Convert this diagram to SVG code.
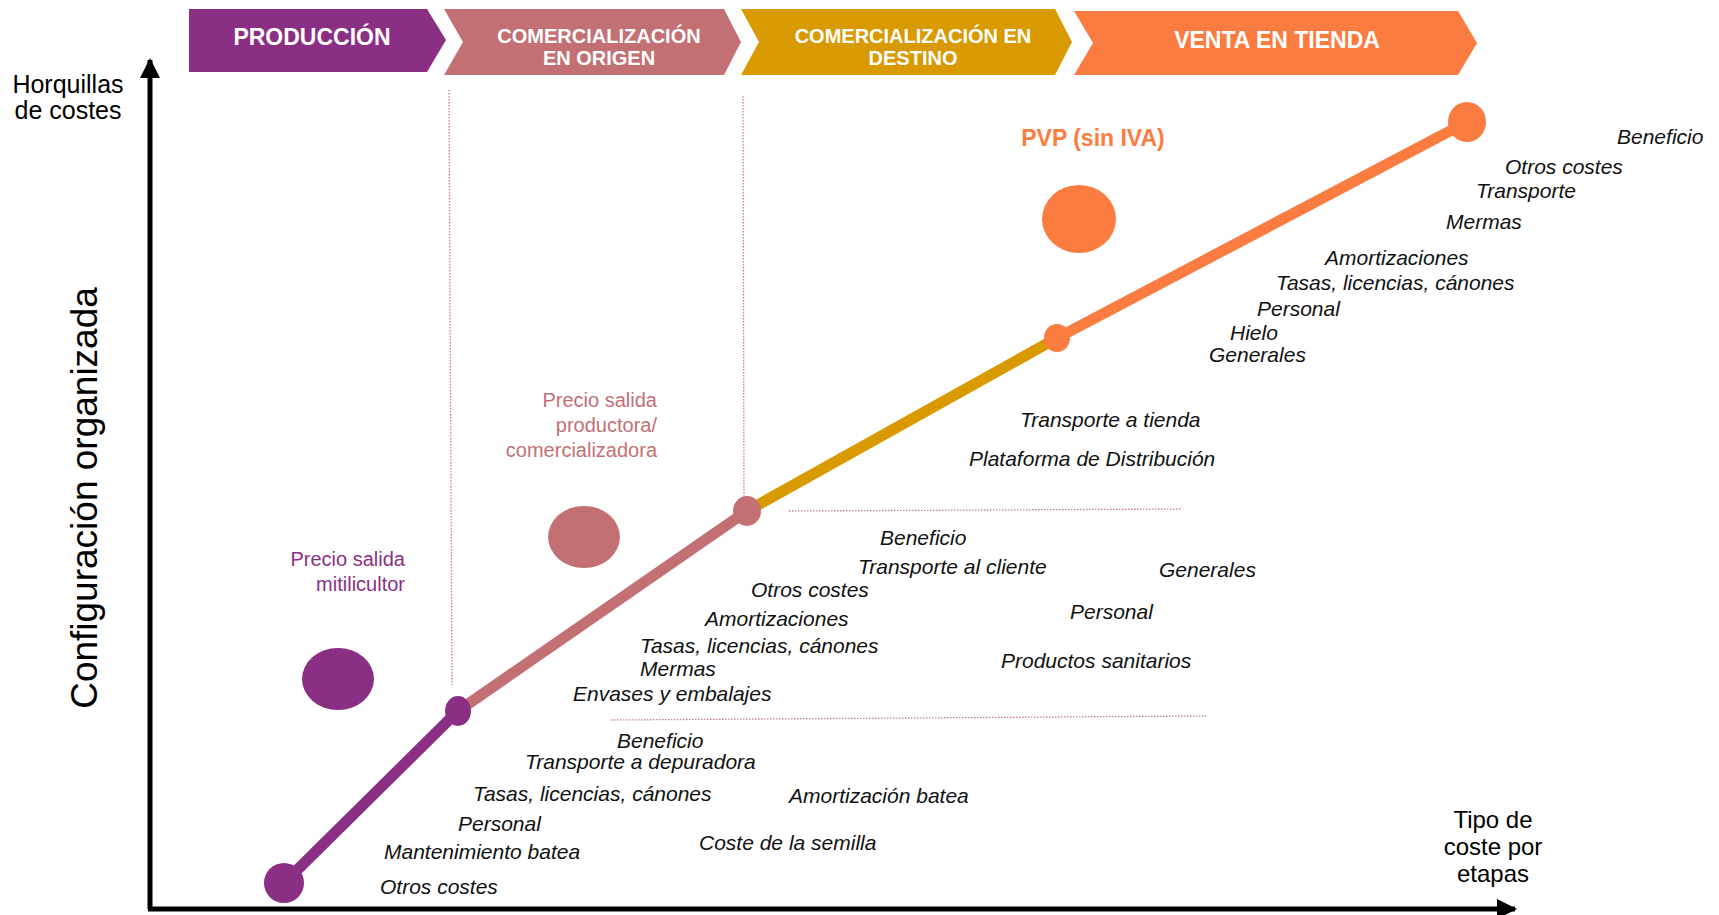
<svg xmlns="http://www.w3.org/2000/svg" width="1719" height="915" viewBox="0 0 1719 915">
<style>
.bn{font-family:"Liberation Sans",Arial,sans-serif;font-weight:bold;fill:#fff;text-anchor:middle}
.ax{font-family:"Liberation Sans",Arial,sans-serif;fill:#000}
.it{font-family:"Liberation Sans",Arial,sans-serif;font-style:italic;fill:#111;font-size:21px}
.lb{font-family:"Liberation Sans",Arial,sans-serif;font-size:20px;text-anchor:end}
.dot{stroke:#C47AA8;stroke-width:1.3;stroke-dasharray:1.5 1.5;fill:none}
.seg{stroke-width:11;stroke-linecap:butt}
</style>
<defs>
<marker id="arr" viewBox="0 0 10 10" refX="9" refY="5" markerWidth="4" markerHeight="4" markerUnits="strokeWidth" orient="auto">
<path d="M0,0 L10,5 L0,10 z" fill="#000"/>
</marker>
</defs>
<rect width="1719" height="915" fill="#fff"/>

<g id="banner-produccion">
<polygon points="189,9 427,9 446,40 427,72 189,72" fill="#8B2F84"/>
<text class="bn" x="312" y="45" font-size="23">PRODUCCIÓN</text>
</g>
<g id="banner-origen">
<polygon points="444,9 724,9 741,42 724,75 444,75 463,42" fill="#C37074"/>
<text class="bn" x="599" y="43" font-size="20">COMERCIALIZACIÓN</text>
<text class="bn" x="599" y="65" font-size="20">EN ORIGEN</text>
</g>
<g id="banner-destino">
<polygon points="741,9 1055,9 1072,42 1055,75 741,75 759,42" fill="#D99A00"/>
<text class="bn" x="913" y="43" font-size="20">COMERCIALIZACIÓN EN</text>
<text class="bn" x="913" y="65" font-size="20">DESTINO</text>
</g>
<g id="banner-tienda">
<polygon points="1074,11 1458,11 1477,43 1458,75 1074,75 1093,43" fill="#FA7C40"/>
<text class="bn" x="1277" y="48" font-size="23">VENTA EN TIENDA</text>
</g>

<g id="axes">
<line x1="150" y1="909" x2="150" y2="60" stroke="#000" stroke-width="5" marker-end="url(#arr)"/>
<line x1="148" y1="909" x2="1515" y2="909" stroke="#000" stroke-width="5" marker-end="url(#arr)"/>
<text class="ax" x="68" y="93" text-anchor="middle" font-size="25">Horquillas</text>
<text class="ax" x="68" y="119" text-anchor="middle" font-size="25">de costes</text>
<text class="ax" x="1493" y="828" text-anchor="middle" font-size="24">Tipo de</text>
<text class="ax" x="1493" y="855" text-anchor="middle" font-size="24">coste por</text>
<text class="ax" x="1493" y="882" text-anchor="middle" font-size="24">etapas</text>
<text class="ax" transform="translate(97,498) rotate(-90)" text-anchor="middle" font-size="37">Configuración organizada</text>
</g>

<g id="guides">
<line class="dot" x1="449" y1="90" x2="452" y2="685"/>
<line class="dot" x1="743" y1="96" x2="744" y2="499"/>
<line class="dot" x1="789" y1="511" x2="1182" y2="509"/>
<line class="dot" x1="611" y1="720" x2="1206" y2="716"/>
</g>

<g id="connectors">
<line class="seg" x1="284" y1="883" x2="458" y2="711" stroke="#8B2F84"/>
<line class="seg" x1="458" y1="711" x2="747" y2="511" stroke="#C37074"/>
<line class="seg" x1="747" y1="511" x2="1057" y2="338" stroke="#D99A00"/>
<line class="seg" x1="1057" y1="338" x2="1467" y2="122" stroke="#FA7C40"/>
</g>

<g id="point-inicio"><ellipse cx="284" cy="883" rx="20" ry="20" fill="#8B2F84"/></g>
<g id="point-produccion"><ellipse cx="458" cy="711" rx="13" ry="15" fill="#8B2F84"/></g>
<g id="point-origen"><ellipse cx="747" cy="511" rx="14" ry="15" fill="#C37074"/></g>
<g id="point-destino"><ellipse cx="1057" cy="338" rx="13" ry="14" fill="#FA7C40"/></g>
<g id="point-tienda"><ellipse cx="1467" cy="122" rx="19" ry="20" fill="#FA7C40"/></g>

<g id="precio-mitilicultor">
<ellipse cx="338" cy="679" rx="36" ry="31" fill="#8B2F84"/>
<text class="lb" x="405" y="566" fill="#8B2F84">Precio salida</text>
<text class="lb" x="405" y="591" fill="#8B2F84">mitilicultor</text>
</g>
<g id="precio-productora">
<ellipse cx="584" cy="537" rx="36" ry="31" fill="#C37074"/>
<text class="lb" x="657" y="407" fill="#C37074">Precio salida</text>
<text class="lb" x="657" y="432" fill="#C37074">productora/</text>
<text class="lb" x="657" y="457" fill="#C37074">comercializadora</text>
</g>
<g id="pvp">
<ellipse cx="1079" cy="219" rx="37" ry="34" fill="#FA7C40"/>
<text x="1093" y="146" text-anchor="middle" font-family="Liberation Sans, Arial, sans-serif" font-weight="bold" font-size="23" fill="#FA7C40">PVP (sin IVA)</text>
</g>

<g id="costes-tienda">
<text class="it" x="1617" y="144">Beneficio</text>
<text class="it" x="1505" y="174">Otros costes</text>
<text class="it" x="1476" y="198">Transporte</text>
<text class="it" x="1446" y="229">Mermas</text>
<text class="it" x="1325" y="265">Amortizaciones</text>
<text class="it" x="1276" y="290">Tasas, licencias, cánones</text>
<text class="it" x="1257" y="316">Personal</text>
<text class="it" x="1230" y="340">Hielo</text>
<text class="it" x="1209" y="362">Generales</text>
</g>
<g id="costes-destino">
<text class="it" x="1020" y="427">Transporte a tienda</text>
<text class="it" x="969" y="466">Plataforma de Distribución</text>
</g>
<g id="costes-origen">
<text class="it" x="880" y="545">Beneficio</text>
<text class="it" x="858" y="574">Transporte al cliente</text>
<text class="it" x="1159" y="577">Generales</text>
<text class="it" x="751" y="597">Otros costes</text>
<text class="it" x="1070" y="619">Personal</text>
<text class="it" x="705" y="626">Amortizaciones</text>
<text class="it" x="640" y="653">Tasas, licencias, cánones</text>
<text class="it" x="640" y="676">Mermas</text>
<text class="it" x="1001" y="668">Productos sanitarios</text>
<text class="it" x="573" y="701">Envases y embalajes</text>
</g>
<g id="costes-produccion">
<text class="it" x="617" y="748">Beneficio</text>
<text class="it" x="525" y="769">Transporte a depuradora</text>
<text class="it" x="473" y="801">Tasas, licencias, cánones</text>
<text class="it" x="789" y="803">Amortización batea</text>
<text class="it" x="458" y="831">Personal</text>
<text class="it" x="384" y="859">Mantenimiento batea</text>
<text class="it" x="699" y="850">Coste de la semilla</text>
<text class="it" x="380" y="894">Otros costes</text>
</g>
</svg>
